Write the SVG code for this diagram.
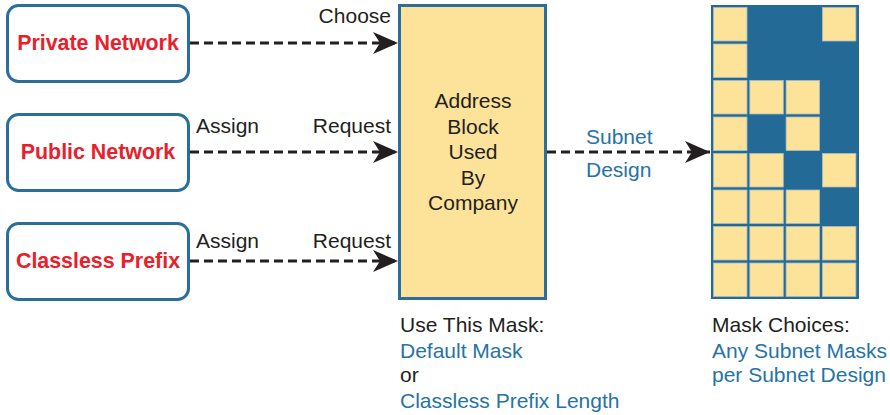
<svg xmlns="http://www.w3.org/2000/svg" width="890" height="415" viewBox="0 0 890 415">
<style>
.node{fill:#fff;stroke:#2A6F9B;stroke-width:3}
.lbl{font-family:"Liberation Sans",Arial,sans-serif;font-weight:bold;font-size:21.4px;fill:#E8202A;text-anchor:middle}
.t{font-family:"Liberation Sans",Arial,sans-serif;font-size:21px;fill:#231F20}
.b{font-family:"Liberation Sans",Arial,sans-serif;font-size:21px;fill:#2673A6}
.c{fill:none;stroke:#231F20;stroke-width:3;stroke-dasharray:9 5}
.lt{fill:#FDE29A;stroke:#A9BCC0;stroke-width:0.8}
</style>
<defs>
<marker id="ah" markerUnits="userSpaceOnUse" markerWidth="26" markerHeight="22" refX="25" refY="11" orient="auto">
<path d="M0,0 L25,11 L0,22 L7,11 Z" fill="#231F20"/>
</marker>
</defs>
<g id="private-network">
<rect class="node" x="7.5" y="5.5" width="181" height="76" rx="11"/>
<text class="lbl" x="98" y="50">Private Network</text>
</g>
<g id="public-network">
<rect class="node" x="7.5" y="114.5" width="181" height="76" rx="11"/>
<text class="lbl" x="98" y="159">Public Network</text>
</g>
<g id="classless-prefix">
<rect class="node" x="7.5" y="223.5" width="181" height="76" rx="11"/>
<text class="lbl" x="98" y="268">Classless Prefix</text>
</g>
<g id="address-block">
<rect x="399.5" y="5.5" width="146" height="293" fill="#FDE29A" stroke="#2A6F9B" stroke-width="3"/>
<text class="t" text-anchor="middle" x="473" y="108">Address</text>
<text class="t" text-anchor="middle" x="473" y="134">Block</text>
<text class="t" text-anchor="middle" x="473" y="159">Used</text>
<text class="t" text-anchor="middle" x="473" y="185">By</text>
<text class="t" text-anchor="middle" x="473" y="210">Company</text>
</g>
<g id="subnet-grid">
<rect x="711" y="5" width="148" height="294" fill="#236A96"/>
<g>
<rect class="lt" x="713.5" y="7.5" width="33.5" height="33.5"/>
<rect class="lt" x="822.4" y="7.5" width="33.5" height="33.5"/>
<rect class="lt" x="713.5" y="44" width="33.5" height="33.5"/>
<rect class="lt" x="713.5" y="80.5" width="33.5" height="33.5"/>
<rect class="lt" x="749.8" y="80.5" width="33.5" height="33.5"/>
<rect class="lt" x="786.1" y="80.5" width="33.5" height="33.5"/>
<rect class="lt" x="713.5" y="117" width="33.5" height="33.5"/>
<rect class="lt" x="786.1" y="117" width="33.5" height="33.5"/>
<rect class="lt" x="713.5" y="153.5" width="33.5" height="33.5"/>
<rect class="lt" x="749.8" y="153.5" width="33.5" height="33.5"/>
<rect class="lt" x="822.4" y="153.5" width="33.5" height="33.5"/>
<rect class="lt" x="713.5" y="190" width="33.5" height="33.5"/>
<rect class="lt" x="749.8" y="190" width="33.5" height="33.5"/>
<rect class="lt" x="786.1" y="190" width="33.5" height="33.5"/>
<rect class="lt" x="713.5" y="226.5" width="33.5" height="33.5"/>
<rect class="lt" x="749.8" y="226.5" width="33.5" height="33.5"/>
<rect class="lt" x="786.1" y="226.5" width="33.5" height="33.5"/>
<rect class="lt" x="822.4" y="226.5" width="33.5" height="33.5"/>
<rect class="lt" x="713.5" y="263" width="33.5" height="33.5"/>
<rect class="lt" x="749.8" y="263" width="33.5" height="33.5"/>
<rect class="lt" x="786.1" y="263" width="33.5" height="33.5"/>
<rect class="lt" x="822.4" y="263" width="33.5" height="33.5"/>
</g>
</g>
<g id="connectors">
<line class="c" x1="190" y1="43" x2="398" y2="43" marker-end="url(#ah)"/>
<line class="c" x1="190" y1="152" x2="398" y2="152" marker-end="url(#ah)"/>
<line class="c" x1="190" y1="261" x2="398" y2="261" marker-end="url(#ah)"/>
<line class="c" x1="547" y1="152" x2="710" y2="152" marker-end="url(#ah)"/>
<text class="t" text-anchor="end" x="391" y="23">Choose</text>
<text class="t" x="196" y="133">Assign</text>
<text class="t" text-anchor="end" x="391" y="133">Request</text>
<text class="t" x="196" y="248">Assign</text>
<text class="t" text-anchor="end" x="391" y="248">Request</text>
<text class="b" x="586" y="144">Subnet</text>
<text class="b" x="586" y="177">Design</text>
</g>
<g id="notes">
<text class="t" x="400" y="332">Use This Mask:</text>
<text class="b" x="400" y="358">Default Mask</text>
<text class="t" x="400" y="382">or</text>
<text class="b" x="400" y="408">Classless Prefix Length</text>
<text class="t" x="712" y="332">Mask Choices:</text>
<text class="b" x="712" y="358">Any Subnet Masks</text>
<text class="b" x="712" y="382">per Subnet Design</text>
</g>
</svg>
